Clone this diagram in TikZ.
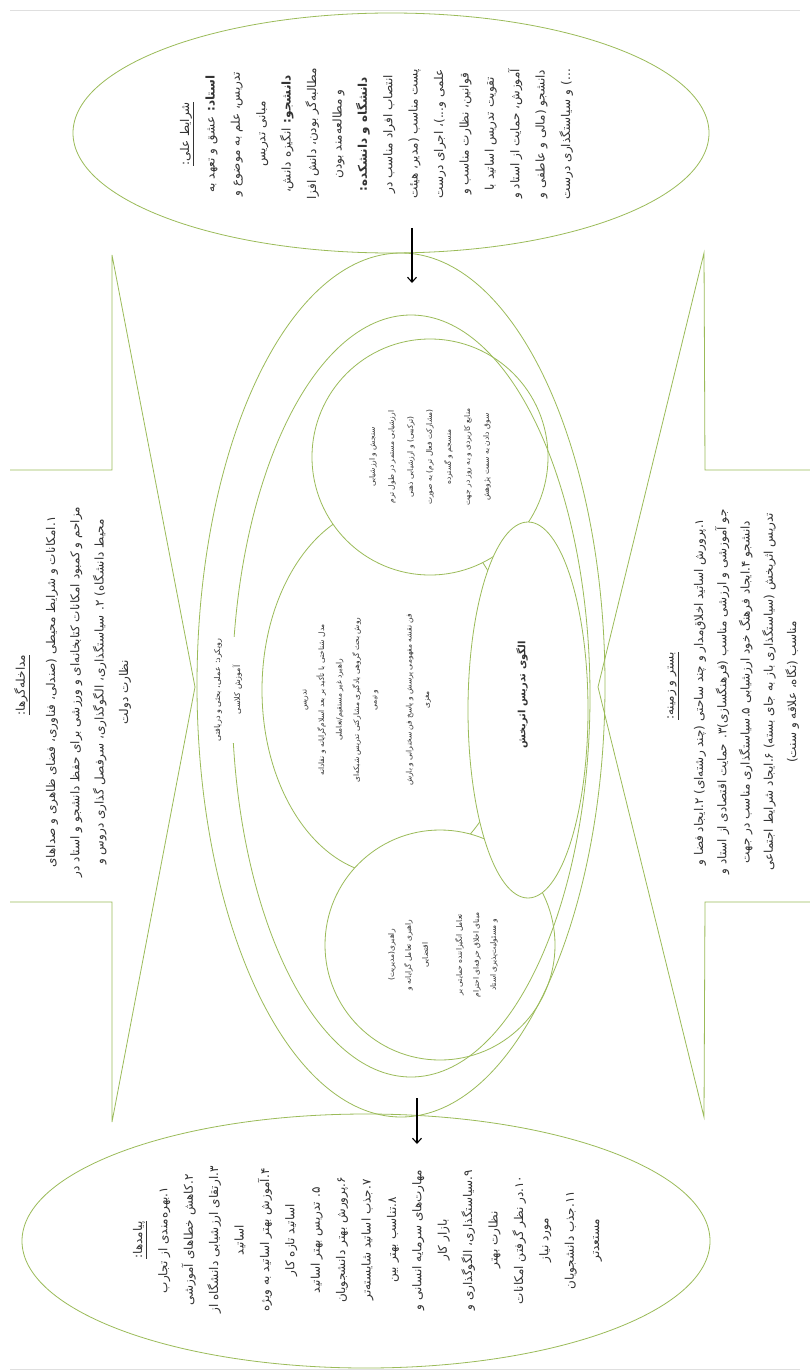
\documentclass[tikz,border=0pt]{standalone}
\usepackage{fontspec}
\usetikzlibrary{arrows.meta}
\newfontfamily\fa[Script=Arabic]{DejaVu Sans}
\TeXXeTstate=1
\newcommand{\rl}[1]{\beginR#1\endR}
\definecolor{lg}{HTML}{9BBB59}
\definecolor{txtc}{HTML}{333333}
\begin{document}
\begin{tikzpicture}[x=1pt,y=-1pt,
  shp/.style={draw=lg, line width=0.8pt},
  wshp/.style={draw=lg, line width=0.8pt, fill=white},
  bigtxt/.style={rotate=90, align=center, inner sep=0pt, text=txtc,
     font=\fa\fontsize{12}{25.4}\selectfont},
  smalltxt/.style={rotate=90, align=center, inner sep=0pt, text=txtc,
     font=\fa\fontsize{7.5}{17.5}\selectfont},
  arr/.style={-{Straight Barb[length=5pt,width=9pt]}, line width=1.1pt, black}]
\useasboundingbox (0,0) rectangle (810,1372);
\fill[white] (0,0) rectangle (810,1372);
% faint page edges
\draw[gray!25, line width=0.8pt] (10,10) -- (800,10);
\draw[gray!25, line width=0.8pt] (10,1369) -- (800,1369);
% side shapes
\draw[shp] (10,470) -- (112,470) -- (112,255) -- (195,687) -- (112,1122) -- (112,902) -- (10,902);
\draw[shp] (810,470) -- (705,470) -- (704,253) -- (598,687) -- (704,1117) -- (705,902) -- (810,902);
% causal and consequence ellipses
\draw[shp] (391,133) ellipse [x radius=318, y radius=120];
\draw[shp] (366,1241) ellipse [x radius=344, y radius=127];
% central model
\draw[shp] (390,690) ellipse [x radius=128, y radius=185];
\draw[wshp] (430,457) circle [radius=118];
\draw[wshp] (440,945) circle [radius=115];
\draw[wshp] (528,710) ellipse [x radius=60, y radius=188];
\draw[shp] (401,685) ellipse [x radius=204, y radius=432];
\draw[shp] (411,696) ellipse [x radius=179, y radius=381];
% arrows
\coordinate (a1s) at (412,228);
\coordinate (a1e) at (412,283);
\coordinate (a2s) at (417,1098);
\coordinate (a2e) at (417,1144);
\draw[arr] (a1s) -- (a1e);
\draw[arr] (a2s) -- (a2e);
% texts
\node[bigtxt] (causal) at (376.5,134) {\underline{\rl{شرایط علی:}}\\
\rl{\textbf{استاد:} عشق و تعهد به}\\
\rl{تدریس، علم به موضوع و}\\
\rl{مبانی تدریس}\\
\rl{\textbf{دانشجو:} انگیزه دانش،}\\
\rl{مطالبه‌گر بودن، دانش افزا}\\
\rl{و مطالعه‌مند بودن}\\
\rl{\textbf{دانشگاه و دانشکده:}}\\
\rl{انتصاب افراد مناسب در}\\
\rl{پست مناسب (مدیر، هیئت}\\
\rl{علمی و...)، اجرای درست}\\
\rl{قوانین، نظارت مناسب و}\\
\rl{تقویت تدریس اساتید با}\\
\rl{آموزش، حمایت از استاد و}\\
\rl{دانشجو (مالی و عاطفی و}\\
\rl{...) و سیاستگذاری درست}};
\node[bigtxt] (conseq) at (367.5,1240) {\underline{\rl{پیامدها:}}\\
\rl{۱.بهره‌مندی از تجارب}\\
\rl{۲.کاهش خطاهای آموزشی}\\
\rl{۳.ارتقای ارزشیابی دانشگاه از}\\
\rl{اساتید}\\
\rl{۴.آموزش بهتر اساتید به ویژه}\\
\rl{اساتید تازه کار}\\
\rl{۵. تدریس بهتر اساتید}\\
\rl{۶.پرورش بهتر دانشجویان}\\
\rl{۷.جذب اساتید شایسته‌تر}\\
\rl{۸.تناسب بهتر بین}\\
\rl{مهارت‌های سرمایه انسانی و}\\
\rl{بازار کار}\\
\rl{۹.سیاستگذاری، الگوگذاری و}\\
\rl{نظارت بهتر}\\
\rl{۱۰.در نظر گرفتن امکانات}\\
\rl{مورد نیاز}\\
\rl{۱۱.جذب دانشجویان}\\
\rl{مستعدتر}};
\node[bigtxt] (intervh) at (22,685) {\underline{\rl{مداخله‌گرها:}}};
\node[bigtxt, font=\fa\fontsize{12}{24.3}\selectfont] (interv) at (88.5,692) {\rl{۱.امکانات و شرایط محیطی (صندلی، فناوری، فضای ظاهری و صداهای}\\
\rl{مزاحم و کمبود امکانات کتابخانه‌ای و ورزشی برای حفظ دانشجو و استاد در}\\
\rl{محیط دانشگاه) ۲. سیاستگذاری، الگوگذاری، سرفصل گذاری دروس و}\\
\rl{نظارت دولت}};
\node[bigtxt] (backh) at (673,686) {\underline{\rl{بستر و زمینه:}}};
\node[bigtxt, font=\fa\fontsize{12}{23.3}\selectfont] (back) at (746.5,692) {\rl{۱.پرورش اساتید اخلاق‌مدار و چند ساحتی (چند رشته‌ای) ۲.ایجاد فضا و}\\
\rl{جو آموزشی و ارزشی مناسب (فرهنگسازی)۳. حمایت اقتصادی از استاد و}\\
\rl{دانشجو ۴.ایجاد فرهنگ خود ارزشیابی ۵.سیاستگذاری مناسب در جهت}\\
\rl{تدریس اثربخش (سیاستگذاری باز به جای بسته) ۶.ایجاد شرایط اجتماعی}\\
\rl{مناسب (نگاه، علاقه و سنت)}};
\node[smalltxt, fill=white, inner sep=2pt, font=\fa\fontsize{8}{20}\selectfont] (approach) at (228,690) {\rl{رویکرد: عملی، بحثی و دریافتی}\\
\rl{آموزش کلاسی}};
\node[smalltxt] (teach) at (367,700) {\rl{تدریس}\\
\rl{مدل شناختی با تأکید بر بعد اسلام‌گرایانه و نقادانه}\\
\rl{راهبرد غیر مستقیم/تعاملی}\\
\rl{روش بحث گروهی یادگیری مشارکتی تدریس شبکه‌ای}\\
\rl{و تیمی}\\
\\
\rl{فن نقشه مفهومی پرسش و پاسخ فن سخنرانی و بارش}\\
\rl{مغزی}};
\node[smalltxt, font=\fa\fontsize{7.5}{19}\selectfont] (assess) at (430,457) {\rl{سنجش و ارزشیابی}\\
\rl{ارزشیابی مستمر در طول ترم}\\
\rl{(ترکیبی) و ارزشیابی ذهنی}\\
\rl{(مشارکت فعال ترم) به صورت}\\
\rl{منسجم و گسترده}\\
\rl{منابع کاربردی و به روز در جهت}\\
\rl{سوق دادن به سمت پژوهش}};
\node[smalltxt, font=\fa\fontsize{7.5}{17}\selectfont] (lead) at (443,955) {\rl{راهبری(مدیریت)}\\
\rl{راهبری تعامل گرایانه و}\\
\rl{اقتضایی}\\
\\
\rl{تعامل انگیزاننده حمایتی بر}\\
\rl{مبنای اخلاق حرفه‌ای احترام}\\
\rl{و مسئولیت‌پذیری استاد}};
\node[rotate=90, inner sep=0pt, text=txtc, font=\fa\bfseries\fontsize{10}{14}\selectfont] (model) at (522,695) {\rl{الگوی تدریس اثربخش}};
\end{tikzpicture}
\end{document}
